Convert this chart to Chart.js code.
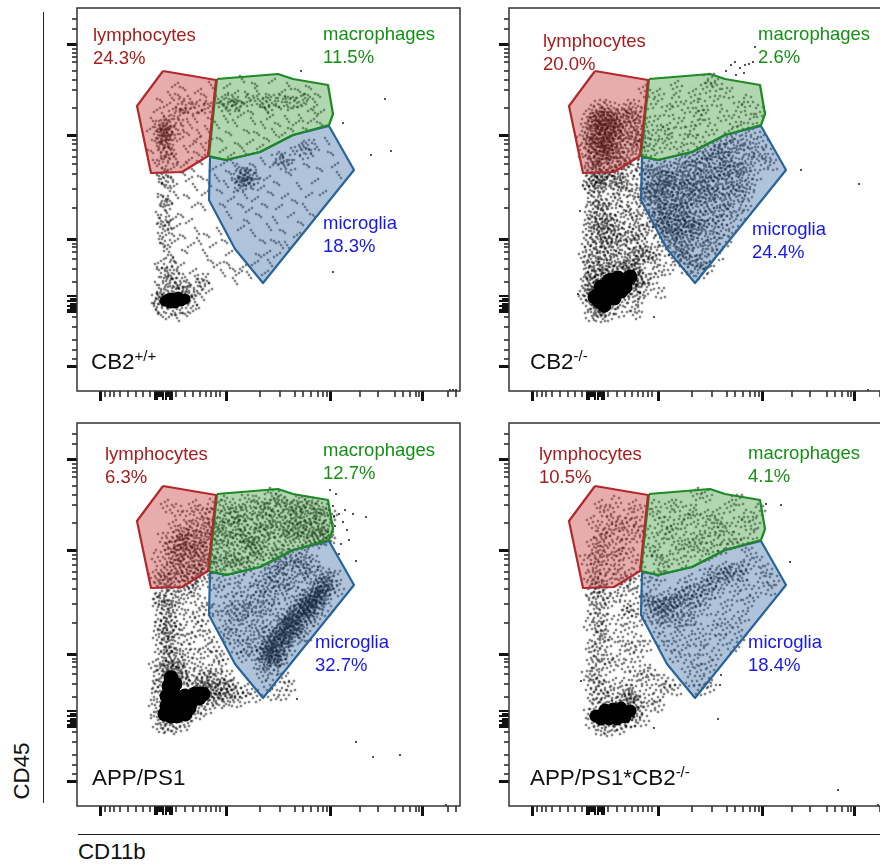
<!DOCTYPE html>
<html>
<head>
<meta charset="utf-8">
<title>CD45 / CD11b gating</title>
<script src="https://cdn.jsdelivr.net/npm/chart.js@4"></script>
<style>
html, body { margin: 0; background: #fff; }
body { position: relative; width: 880px; height: 864px; overflow: hidden; font-family: "Liberation Sans", Arial, sans-serif; }
canvas { position: absolute; }
.lab { position: absolute; font-size: 18.5px; line-height: 23px; white-space: nowrap; }
.ly { color: #a81c1c; }
.ma { color: #159015; }
.mi { color: #1616ee; }
.name { position: absolute; font-size: 22.4px; line-height: 24px; color: #111; white-space: nowrap; }
.name sup { font-size: 15px; line-height: 0; vertical-align: 8px; }
.axis-name { position: absolute; font-size: 22.3px; line-height: 24px; color: #111; }
.rule { position: absolute; background: #222; }
</style>
</head>
<body>
<canvas id="wt" width="397" height="397" style="left:65px;top:6px"></canvas>
<canvas id="ko" width="397" height="397" style="left:497px;top:6px"></canvas>
<canvas id="app" width="397" height="397" style="left:65px;top:421px"></canvas>
<canvas id="dko" width="397" height="397" style="left:497px;top:421px"></canvas>

<div class="lab ly" style="left:93px;top:23px">lymphocytes<br>24.3%</div>
<div class="lab ma" style="left:323px;top:22px">macrophages<br>11.5%</div>
<div class="lab mi" style="left:323px;top:211px">microglia<br>18.3%</div>
<div class="name" style="left:91px;top:350px">CB2<sup>+/+</sup></div>

<div class="lab ly" style="left:543px;top:29px">lymphocytes<br>20.0%</div>
<div class="lab ma" style="left:758px;top:22px">macrophages<br>2.6%</div>
<div class="lab mi" style="left:752px;top:217px">microglia<br>24.4%</div>
<div class="name" style="left:530px;top:350px">CB2<sup>-/-</sup></div>

<div class="lab ly" style="left:105px;top:442px">lymphocytes<br>6.3%</div>
<div class="lab ma" style="left:323px;top:438px">macrophages<br>12.7%</div>
<div class="lab mi" style="left:315px;top:630px">microglia<br>32.7%</div>
<div class="name" style="left:92px;top:766px">APP/PS1</div>

<div class="lab ly" style="left:539px;top:442px">lymphocytes<br>10.5%</div>
<div class="lab ma" style="left:748px;top:441px">macrophages<br>4.1%</div>
<div class="lab mi" style="left:748px;top:630px">microglia<br>18.4%</div>
<div class="name" style="left:530px;top:766px">APP/PS1*CB2<sup>-/-</sup></div>

<div class="rule" style="left:43px;top:12px;width:1.4px;height:791px"></div>
<div class="rule" style="left:78px;top:833.5px;width:802px;height:1.4px"></div>
<div class="axis-name" style="left:78px;top:840px">CD11b</div>
<div class="axis-name" style="left:-6px;top:760px;width:55px;text-align:center;transform:rotate(-90deg)">CD45</div>

<script>
// axis ticks (same on all four plots)
const xMajor = [23, 149, 253, 345];
const xMinor = [28, 33, 37, 43, 51, 59, 66, 73, 99, 108, 116, 123, 129, 134, 139, 143, 183, 203, 218, 226, 234, 241, 246, 250, 283, 301, 318, 326, 333, 339, 342, 371, 379];
const xDenseLong = [78, 80, 86, 89, 93, 95];
const xDenseShort = [82, 84, 91];
const yMajor = [25, 151, 256, 347];
const yMinor = [32, 41, 51, 64, 74, 109, 122, 132, 139, 144, 147, 183, 202, 217, 227, 234, 241, 247, 251, 283, 301, 311, 320, 329, 334, 338, 342, 362, 372];
const yDenseLong = [79, 81, 85, 90, 95];
const yDenseShort = [83, 87, 92];

// gates
const lymphGate = [[86,320],[139,311],[131,235],[105,219],[74,218],[60,285],[86,320]];
const macroGate = [[140,312],[201,317],[216,312],[251,306],[256,277],[252,266],[216,256],[183,239],[149,231],[132,235],[140,312]];
const microGate = [[133,234],[149,231],[183,239],[216,256],[252,265],[277,221],[186,108],[158,142],[132,191],[133,234]];

// stray = one event. dots and clumps = spots where
// several events sit close together, too many to list one by one, drawn as a speckle.
// cores = the solid black parts
const wtStray = [[224,320],[308,292],[266,268],[294,236],[314,240],[256,119],[373,1],[376,1],[379,1]];
const wtDots = [[73,262],[76,270],[78,250],[80,281],[82,242],[83,291],[85,232],[87,275],[88,222],[90,286],[93,296],[95,243],[97,224],[99,232],[101,296],[103,252],[104,268],[106,303],[107,226],[109,242],[110,258],[112,231],[113,292],[115,222],[116,247],[118,272],[120,238],[121,300],[122,258],[123,229],[125,280],[126,244],[127,296],[128,236],[130,262],[131,287],[132,250],[134,306],[134,272],[92,236],[78,228],[74,240],[120,252],[113,266],[106,281],[98,306],
[141,292],[145,287],[148,296],[151,280],[155,291],[158,298],[160,283],[163,290],[167,287],[170,296],[174,279],[177,293],[180,300],[183,286],[186,292],[189,281],[192,296],[195,288],[199,293],[202,284],[205,299],[208,289],[211,294],[214,283],[218,291],[221,301],[224,286],[228,293],[231,296],[234,282],[238,289],[241,296],[244,279],[140,266],[143,252],[146,241],[149,272],[152,258],[154,236],[158,268],[161,247],[164,276],[167,240],[170,260],[173,249],[176,270],[180,258],[183,244],[186,266],[190,252],[193,274],[197,259],[201,267],[205,256],[210,272],[214,262],[219,268],[224,273],[229,262],[234,270],[238,278],[243,268],[150,305],[165,312],[178,307],[195,310],[212,305],[232,304],
[136,222],[140,213],[143,200],[147,228],[149,207],[152,219],[154,192],[156,228],[158,212],[160,201],[162,224],[164,186],[165,208],[168,196],[170,222],[172,181],[174,205],[176,226],[178,192],[180,215],[182,176],[184,203],[186,230],[188,186],[190,213],[192,164],[194,198],[196,226],[198,171],[200,208],[202,184],[204,236],[206,160],[208,195],[210,146],[212,218],[214,176],[216,240],[218,190],[220,156],[222,205],[224,168],[226,246],[228,184],[230,226],[232,196],[234,238],[236,176],[238,210],[240,244],[243,222],[246,198],[250,250],[254,238],[258,226],[262,216],[186,150],[190,138],[193,128],[197,150],[200,136],[204,146],[182,136],[178,128],[176,158],[170,170],[164,163],[152,176],[146,186],[188,118],
[82,215],[85,208],[88,219],[91,203],[94,213],[97,205],[99,196],[84,196],[87,187],[90,178],[93,190],[96,172],[81,176],[84,167],[88,160],[92,166],[95,157],[98,150],[83,155],[86,147],[90,142],[94,136],[97,130],[84,130],[80,124],[88,122],[92,116],[96,112],[100,120],[104,126],[108,114],[112,108],[116,120],[120,112],[124,104],[118,96],[125,94],[130,110],[132,100],[80,106],[83,98],[78,90],[79,82],[84,76],[92,74],[100,73],[108,77],[116,80],[120,86],
[106,218],[112,212],[118,204],[124,214],[128,198],[132,208],[110,195],[118,186],[126,184],[104,176],[112,170],[120,160],[106,155],[114,146],[122,150],[130,156],[136,146],[142,160],[148,150],[152,138],[128,138],[134,130],[140,126],[146,118],[156,122],[162,118],[158,110],[150,128],[166,124],[172,116],[108,140],[100,165]];
const wtClumps = [[84,262],[86,256],[88,260],[83,255],[90,252],[87,266],[92,263],[95,258],[85,248],[91,245],[89,238],[94,232],[86,229],[100,262],[104,276],[98,278],[108,284],[114,282],[122,285],[130,284],[102,287],[85,258],[88,252],[84,266],[90,258],[86,244],[92,270],[146,286],[152,290],[156,285],[160,288],[172,291],[186,288],[192,285],[204,290],[214,288],[226,291],[160,214],[165,218],[168,212],[171,208],[174,216],[178,212],[163,206],[168,216],[170,212],[164,212],[200,232],[205,228],[209,232],[212,226],[224,242],[228,238],[232,246],[86,214],[90,210],[86,190],[90,186],[85,170],[89,166],[88,150],[92,130],[85,118],[90,112],[96,118],[100,108],[106,104],[122,106],[126,112],[88,104],[94,104],[80,92],[112,100],[84,84],[92,82],[100,82],[108,84],[114,90],[112,98],[104,100],[96,100],[86,96],[82,90]];
const wtCores = [[88,90],[93,88],[98,88],[104,90],[108,92],[95,93],[101,94],[91,92],[100,91]];

const koStray = [[217,320],[222,326],[227,316],[231,323],[235,318],[240,327],[244,329],[246,344],[226,329],[236,326],[292,221],[350,207],[145,74],[71,180],[69,97],[359,1]];
const koDots = [[136,300],[141,288],[146,270],[150,296],[155,258],[158,280],[162,248],[166,290],[170,268],[174,240],[178,284],[182,260],[186,296],[190,250],[194,276],[198,304],[202,262],[206,290],[210,246],[214,276],[218,298],[222,256],[226,270],[230,284],[234,262],[238,290],[242,272],[246,258],[250,280],[200,312],[208,306],[188,272],[176,252],[160,262],[150,244],[144,256],[168,304],[192,286],
[140,240],[254,250],[258,238],[262,226],[256,228],[250,238],[246,216],[240,198],[236,186],[230,176],[224,164],[216,150],[208,136],[200,124],[192,118],[186,130],[178,140],[170,150],[240,232],[232,222],[224,206],[216,180],[210,170],[204,154],[194,140],[184,152],[168,136],[176,122],
[76,135],[78,150],[80,118],[80,108],[82,76],[90,74],[100,76],[112,80],[124,84],[130,92],[136,102],[142,112],[150,120],[158,122],[150,98],[128,78],[82,170],[84,222],[80,204],[108,218],[116,222],[124,226],[130,218],[136,212],[140,200],[134,182],[128,170],[140,164],[148,150],[154,140],[146,130]];
const koClumps = [[80,270],[83,258],[85,278],[88,244],[92,284],[96,276],[100,282],[104,272],[108,268],[112,274],[116,280],[120,272],[124,284],[128,276],[132,268],[120,262],[112,258],[106,250],[116,246],[124,252],[130,244],[122,236],[114,232],[106,238],[110,226],[100,226],[92,222],[84,226],[78,240],[82,232],[104,260],[128,258],[76,252],[134,252],
[86,268],[90,262],[94,270],[98,264],[102,268],[86,256],[92,254],[98,256],[104,252],[88,246],[94,244],[100,246],[90,238],[96,236],[102,238],[88,272],[94,260],[100,272],[84,250],[106,262],[96,250],[90,268],[98,242],[92,232],
[85,215],[90,212],[82,208],[94,208],[88,203],[98,214],[86,192],[92,186],[84,182],[95,178],[88,170],[96,165],[82,165],[90,158],[100,170],[84,150],[94,148],[100,155],[88,140],[96,136],[82,132],[104,142],[92,126],[100,124],[84,122],[110,132],[116,120],[122,128],[128,122],[132,134],[126,112],[134,112],[120,106],[128,100],[80,110],[78,98],[86,118],
[106,212],[112,200],[120,208],[126,192],[104,190],[114,182],[122,176],[106,168],[116,160],[124,156],[110,150],[118,144],[130,148],[136,138],[126,136],[142,136],[110,208],[134,200],[132,160],[104,156],
[136,226],[142,218],[150,224],[146,208],[154,214],[160,222],[138,200],[148,198],[156,204],[164,212],[170,224],[178,230],[142,184],[150,186],[158,190],[166,200],[174,212],[182,222],[146,172],[154,176],[162,180],[170,190],[178,200],[186,214],[194,226],[152,162],[160,166],[168,172],[176,182],[184,194],[192,206],[200,218],[208,230],[158,152],[166,156],[174,164],[182,172],[190,184],[198,196],[206,208],[214,220],[222,232],[168,142],[176,150],[184,162],[192,172],[200,184],[208,196],[216,210],[226,222],[172,132],[180,136],[190,150],[198,164],[206,176],[214,190],[222,200],[230,212],[236,224],[186,122],[194,130],[202,146],[212,160],[220,180],[228,194],[238,206],[242,240],
[152,204],[158,212],[164,192],[172,178],[160,176],[148,192],[168,206],[180,190],[188,202],[194,214],[204,238],[212,240],[196,236],[188,232],[218,244],[226,246],[236,248],[152,170],[162,158],[170,164],[180,208],[200,200],[210,216],[218,226],[178,168],[190,164],
[84,84],[90,80],[98,82],[106,90],[114,96],[122,104],[126,114],[120,122],[108,122],[100,118],[94,112],[86,104],[82,94]];
const koCores = [[90,90],[96,90],[92,97],[99,96],[104,100],[98,104],[107,106],[112,107],[117,111],[109,113],[103,111],[95,86],[121,114],[86,94],[112,100],[105,93],[92,104],[100,110],[116,104]];

const appStray = [[279,64],[296,49],[323,51],[369,1],[220,107],[289,289],[276,292],[279,245],[253,316],[259,312],[256,300],[262,292],[266,284],[270,276],[258,280],[264,262],[272,266],[262,252],[257,290],[268,296]];
const appDots = [[90,300],[100,296],[110,290],[118,300],[126,284],[132,276],[98,280],[108,272],[86,268],[92,258],[80,250],[85,236],[78,230],[122,294],[114,280],[102,266],[120,262],[130,292],
[78,140],[80,120],[84,180],[82,205],[84,216],[88,222],[96,218],[104,212],[112,208],[118,216],[124,204],[130,196],[122,190],[112,190],[104,176],[114,168],[120,176],[126,180],[132,168],[108,158],[118,152],[128,154],[136,160],[140,150],[146,146],[138,138],[150,130],[156,122],[160,114],[166,108],[150,108],[144,118],[158,104],[170,116],[206,112],[212,120],[180,110],
[136,222],[142,214],[148,226],[152,206],[158,218],[162,230],[138,196],[146,190],[154,196],[160,206],[168,214],[172,198],[178,226],[184,210],[190,232],[196,220],[204,236],[212,222],[220,240],[228,228],[148,176],[156,182],[164,170],[170,184],[176,172],[184,190],[192,176],[198,198],[206,186],[214,204],[222,212],[158,158],[166,150],[174,156],[180,142],[186,130],[192,122],[198,136],[204,146],[212,156],[228,170],[238,186],[250,196],[258,230],[262,216],[196,112],[206,128]];
const appClumps = [[138,300],[144,286],[150,302],[156,276],[160,292],[166,268],[170,304],[176,284],[180,258],[186,296],[190,274],[196,310],[200,288],[204,262],[210,300],[214,276],[220,290],[224,264],[230,302],[234,280],[238,266],[244,296],[248,276],[252,290],[140,270],[146,256],[152,244],[158,264],[164,250],[172,262],[178,246],[184,272],[192,256],[198,276],[206,250],[212,268],[218,278],[226,286],[232,268],[240,290],[246,270],[142,240],[148,268],[154,290],[162,280],[168,292],[174,270],[182,302],[188,284],[194,296],[202,304],[208,282],[216,296],[222,302],[228,276],[236,298],[242,280],[250,268],[136,250],[140,282],[156,246],[166,240],[176,256],[194,244],
[96,262],[104,272],[110,264],[116,276],[122,268],[128,256],[132,280],[100,250],[108,254],[114,246],[120,254],[126,244],[132,240],[104,238],[112,232],[118,238],[98,240],[92,232],[100,226],[110,222],[86,226],[118,226],[126,232],[130,266],[106,264],[112,256],[96,250],
[84,206],[90,200],[96,208],[86,190],[92,184],[100,196],[84,174],[90,170],[97,176],[86,160],[92,152],[96,162],[88,146],[100,150],[94,138],[102,134],[88,134],[110,142],[118,128],[126,136],[132,126],[140,128],[148,120],[138,112],[144,106],[152,114],[130,118],
[190,152],[196,148],[192,160],[200,156],[206,160],[198,166],[204,172],[210,168],[214,176],[208,180],[216,184],[222,178],[218,192],[226,190],[230,198],[224,200],[234,204],[240,208],[246,212],[236,214],[244,220],[250,218],[228,208],[212,190],[220,170],[202,182],[194,172],[188,162],[186,144],[194,140],[202,148],[232,188],[238,196],[252,226],[246,232],[234,244],[226,250],[216,248],[208,240],[236,232],[224,236],[200,232],[194,226],[182,218],[176,204],[168,196],[160,190],[154,170],[172,160],[180,178],[186,196],[194,208],[204,216],[214,224],
[192,156],[197,162],[201,168],[206,174],[211,181],[215,188],[220,194],[226,198],[231,204],[236,208],[241,214],[246,216],[200,152],[208,168],[214,182],[222,186],[228,196],[238,202],[244,208],[188,154],[194,150],[204,164],[218,176],[234,198],[248,222],
[82,86],[88,80],[96,80],[106,84],[116,92],[126,98],[134,106],[136,116],[126,122],[112,120],[104,126],[102,136],[92,138],[84,128],[82,112],[80,98]];
const appCores = [[88,92],[94,90],[100,90],[108,92],[90,100],[98,100],[106,101],[114,104],[122,108],[126,112],[118,112],[108,110],[98,110],[90,110],[92,120],[98,122],[94,128],[92,96],[102,96],[112,98],[103,106],[94,105],[116,108],[124,112]];

const dkoStray = [[257,302],[272,301],[281,244],[209,87],[329,16],[212,131],[211,121],[369,1],[145,78],[72,125]];
const dkoDots = [[138,296],[142,274],[146,254],[150,288],[154,240],[158,272],[162,300],[166,258],[170,282],[174,244],[178,268],[182,296],[186,262],[190,276],[194,250],[198,310],[202,284],[206,266],[210,292],[214,258],[218,278],[222,300],[226,268],[230,284],[234,262],[238,290],[242,272],[246,282],[250,296],[176,286],[164,276],[152,268],[196,268],[186,290],[140,256],[148,246],[160,246],[172,262],[180,254],[204,254],[212,276],[220,262],[198,290],[168,300],[228,306],[188,312],[146,300],[156,284],[192,262],[208,280],
[96,294],[104,288],[112,284],[120,292],[126,300],[130,270],[118,262],[124,250],[130,240],[110,236],[116,224],[80,230],[76,246],[84,284],[106,304],[128,284],[122,232],[114,272],[108,250],[92,300],
[82,214],[88,218],[96,212],[84,198],[92,196],[100,204],[80,182],[90,180],[98,186],[82,160],[96,164],[84,144],[98,148],[78,130],[102,140],[84,124],[82,112],[108,210],[114,216],[122,222],[128,214],[134,206],[116,200],[124,196],[130,186],[110,186],[120,178],[108,170],[114,160],[122,158],[128,166],[136,160],[110,146],[118,140],[126,130],[134,128],[142,132],[150,126],[156,118],[148,110],[138,116],[126,114],[132,104],[140,100],[128,92],[134,86],[120,84],[112,78],[100,76],[90,76],[150,100],[160,122],[166,116],
[136,228],[144,222],[150,230],[140,208],[138,190],[148,178],[156,184],[152,166],[160,160],[168,170],[166,150],[174,156],[182,166],[178,140],[186,146],[192,136],[196,124],[190,116],[202,140],[206,152],[212,166],[218,178],[226,184],[234,190],[240,204],[246,214],[252,228],[258,236],[264,226],[248,244],[242,252],[234,222],[226,210],[218,200],[210,188],[204,176],[196,166],[188,178],[180,186],[172,180],[236,238],[260,216],[202,120],[182,126],[192,156],[232,170],[224,160]];
const dkoClumps = [[84,262],[88,256],[92,264],[86,248],[92,250],[96,256],[88,240],[94,238],[100,246],[86,232],[92,226],[98,268],[102,276],[94,278],[108,262],[112,252],[90,272],[84,222],[92,220],[100,228],[106,232],[120,280],[128,276],[108,280],
[84,208],[90,204],[86,188],[92,176],[88,168],[94,170],[86,156],[92,152],[88,142],[92,130],[84,132],[90,120],[96,118],[86,108],[94,108],[104,112],[112,106],[118,116],[122,108],[116,122],[126,104],[106,122],[128,150],[136,136],[120,194],
[138,206],[144,202],[150,198],[156,202],[162,196],[150,206],[158,192],[166,204],[172,210],[168,192],[176,198],[180,214],[184,204],[190,216],[186,194],[194,208],[198,220],[204,224],[208,214],[214,228],[220,232],[226,236],[232,230],[224,226],[212,222],[200,212],[178,206],[162,212],[152,188],[144,190],[176,186],[164,184],[216,238],[204,234],[196,232],[182,226],[172,220],[196,196],[234,240],[188,206],
[150,200],[154,196],[158,200],[162,204],[146,198],[156,208],[166,198],[170,206],[178,212],[186,214],[194,220],[204,228],[212,232],[222,236],
[82,84],[90,80],[100,80],[110,82],[120,84],[128,90],[128,100],[120,102],[122,110],[116,108],[108,104],[98,104],[86,100],[80,92]];
const dkoCores = [[87,90],[94,92],[101,92],[108,92],[115,93],[121,95],[92,87],[100,87],[108,87],[116,89],[96,96],[104,97],[112,98]];

// speckle sprites for the dots and clumps marks, offsets in px from the mark
const looseSpeck = [[[0,0],[-3,2],[3,-2]], [[0,0],[2,3],[-2,-3]], [[0,0],[-3,-1],[2,2]]];
const clumpSpeck = [[[0,0],[-4,2],[3,4],[5,-1],[-2,-4],[1,-6],[-6,-2],[-1,6]],
  [[1,1],[-3,-3],[4,-4],[-5,3],[3,5],[6,1],[-1,-6],[-2,6]],
  [[-1,0],[3,-2],[-5,-4],[2,5],[-3,4],[6,4],[0,-5],[5,-5]]];
const denseSpeck = [[[0,0],[-4,2],[3,4],[5,-1],[-2,-4],[1,-7],[-7,-2],[-1,7],[7,5],[-6,6],[6,-6],[-5,-7],[8,0],[-8,3],[2,-3],[-2,3]],
  [[1,1],[-3,-3],[4,-4],[-5,3],[3,6],[7,1],[-1,-7],[-2,5],[-7,-1],[5,-7],[-6,-6],[8,5],[-8,6],[1,8],[-1,-2],[3,2]],
  [[-1,0],[3,-2],[-5,-4],[2,5],[-3,4],[6,4],[0,-6],[6,-5],[-8,-2],[-6,7],[8,-1],[4,8],[-3,-8],[1,3],[-2,-3],[5,1]]];

const makeSprites = sets => sets.map(offsets => {
  const c = document.createElement('canvas');
  c.width = 21;
  c.height = 21;
  const g = c.getContext('2d');
  g.fillStyle = '#000';
  offsets.forEach(([dx, dy]) => {
    g.beginPath();
    g.arc(10.5 + dx, 10.5 + dy, 0.95, 0, Math.PI * 2);
    g.fill();
  });
  return c;
});
const looseSprites = makeSprites(looseSpeck);
const clumpSprites = makeSprites(clumpSpeck);
const denseSprites = makeSprites(denseSpeck);

const blocks = [
  { id: 'wt', stray: wtStray, dots: wtDots, clumps: wtClumps, cores: wtCores, coreSize: 5.5, dotSprites: looseSprites, clumpSprites: clumpSprites },
  { id: 'ko', stray: koStray, dots: koDots, clumps: koClumps, cores: koCores, coreSize: 7.5, dotSprites: clumpSprites, clumpSprites: denseSprites },
  { id: 'app', stray: appStray, dots: appDots, clumps: appClumps, cores: appCores, coreSize: 7.5, dotSprites: clumpSprites, clumpSprites: denseSprites },
  { id: 'dko', stray: dkoStray, dots: dkoDots, clumps: dkoClumps, cores: dkoCores, coreSize: 6.5, dotSprites: clumpSprites, clumpSprites: clumpSprites },
];

const toXY = pairs => pairs.map(([x, y]) => ({ x, y }));

const gate = (points, line, fill) => ({
  data: toXY(points),
  showLine: true,
  fill: 'shape',
  tension: 0,
  borderColor: line,
  borderWidth: 2.2,
  borderJoinStyle: 'round',
  backgroundColor: fill,
  pointRadius: 0,
});

const events = (points, radius) => ({
  data: toXY(points),
  pointRadius: radius,
  pointBorderWidth: 0,
  pointBackgroundColor: '#000',
});

const speckled = (points, sprites) => ({
  data: toXY(points),
  pointRadius: 1,
  pointStyle: ctx => sprites[ctx.dataIndex % sprites.length],
});

// frame and the shorter ticks, Chart.js only has one tick length per axis
const framePlugin = {
  id: 'frame',
  afterDraw(chart) {
    const { ctx, chartArea: a, scales: { x, y } } = chart;
    ctx.save();
    ctx.strokeStyle = '#111';
    const xTick = (v, len) => {
      const px = x.getPixelForValue(v);
      ctx.beginPath();
      ctx.moveTo(px, a.bottom);
      ctx.lineTo(px, a.bottom + len);
      ctx.stroke();
    };
    const yTick = (v, len) => {
      const py = y.getPixelForValue(v);
      ctx.beginPath();
      ctx.moveTo(a.left, py);
      ctx.lineTo(a.left - len, py);
      ctx.stroke();
    };
    ctx.lineWidth = 1.4;
    xMinor.forEach(v => xTick(v, 6));
    yMinor.forEach(v => yTick(v, 5));
    ctx.lineWidth = 2;
    xDenseLong.forEach(v => xTick(v, 9));
    xDenseShort.forEach(v => xTick(v, 6));
    yDenseLong.forEach(v => yTick(v, 10));
    yDenseShort.forEach(v => yTick(v, 7));
    ctx.strokeStyle = '#333';
    ctx.lineWidth = 1.5;
    ctx.strokeRect(a.left, a.top, a.right - a.left, a.bottom - a.top);
    ctx.restore();
  },
};

const axis = (max, majors) => ({
  type: 'linear',
  min: 0,
  max,
  afterBuildTicks: scale => { scale.ticks = majors.map(value => ({ value })); },
  ticks: { display: false },
  grid: { drawOnChartArea: false, tickLength: 10, tickWidth: 3, tickColor: '#111' },
  border: { display: false },
});

blocks.forEach(b => {
  new Chart(document.getElementById(b.id).getContext('2d'), {
    type: 'scatter',
    data: {
      datasets: [
        gate(lymphGate, '#b4282c', 'rgba(196,50,50,0.40)'),
        gate(macroGate, '#1e8a22', 'rgba(50,150,50,0.38)'),
        gate(microGate, '#28639a', 'rgba(45,100,160,0.38)'),
        events(b.stray, 0.9),
        speckled(b.dots, b.dotSprites),
        speckled(b.clumps, b.clumpSprites),
        events(b.cores, b.coreSize),
      ],
    },
    options: {
      responsive: false,
      animation: false,
      layout: { padding: 2, autoPadding: false },
      plugins: { legend: { display: false }, tooltip: { enabled: false } },
      scales: { x: axis(383, xMajor), y: axis(383, yMajor) },
    },
    plugins: [framePlugin],
  });
});
</script>
</body>
</html>
